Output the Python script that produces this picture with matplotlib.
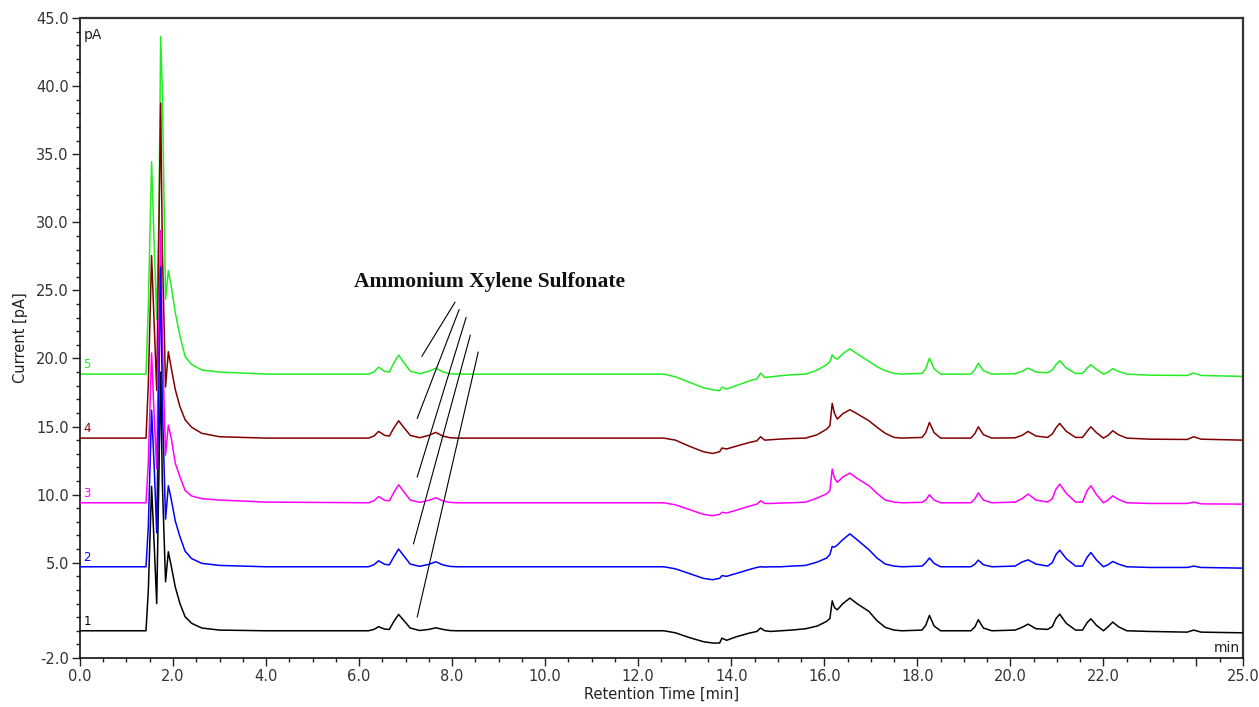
import matplotlib
matplotlib.use("Agg")
import matplotlib.pyplot as plt
from matplotlib.ticker import MultipleLocator, FixedLocator

# ---------------- data ----------------
trace_names = ["1", "2", "3", "4", "5"]
trace_colors = ["#000000", "#0000ff", "#ff00ff", "#800000", "#22ee22"]
baselines = [0.0, 4.7, 9.4, 14.15, 18.85]

times = [0.0, 1.42, 1.47, 1.54, 1.60, 1.65, 1.70, 1.735, 1.77, 1.84, 1.90, 1.96, 2.05, 2.15,
         2.26, 2.40, 2.62, 3.0, 4.0,
         6.2, 6.32, 6.42, 6.55, 6.65, 6.75, 6.85, 6.95, 7.1, 7.3, 7.5, 7.65, 7.8, 7.95, 8.1,
         10.0, 12.55, 12.8, 13.1, 13.4, 13.6, 13.75, 13.8, 13.9, 14.1, 14.39, 14.55, 14.63,
         14.72, 14.85, 15.06, 15.3, 15.6, 15.85, 16.05, 16.12, 16.17, 16.22, 16.28, 16.4,
         16.55, 16.7, 16.96, 17.13, 17.31, 17.5, 17.67, 18.1, 18.18, 18.26, 18.36, 18.5,
         19.15, 19.24, 19.31, 19.42, 19.6, 20.1, 20.25, 20.38, 20.55, 20.8, 20.9, 20.98,
         21.06, 21.2, 21.4, 21.55, 21.65, 21.73, 21.85, 22.0, 22.1, 22.2, 22.32, 22.5,
         23.0, 23.8, 23.94, 24.1, 25.0]

# signal above each trace's baseline [pA]
signal_1 = [0.0, 0.0, 3.0, 10.6, 6.0, 2.0, 12.0, 19.0, 11.0, 3.6, 5.8, 4.8, 3.2, 2.0,
            1.03, 0.55, 0.2, 0.05, 0.0,
            0.0, 0.1, 0.3, 0.12, 0.1, 0.7, 1.2, 0.8, 0.2, 0.02, 0.1, 0.22, 0.1, 0.02, 0.0,
            0.0, 0.0, -0.15, -0.5, -0.8, -0.9, -0.9, -0.54, -0.7, -0.45, -0.17, -0.05, 0.2,
            0.0, -0.05, 0.0, 0.05, 0.15, 0.35, 0.69, 0.9, 2.2, 1.7, 1.54, 2.0,
            2.4, 2.0, 1.42, 0.75, 0.25, 0.05, 0.0, 0.05, 0.4, 1.13, 0.35, 0.0,
            0.0, 0.3, 0.81, 0.2, 0.0, 0.05, 0.25, 0.49, 0.15, 0.1, 0.3, 0.9,
            1.22, 0.55, 0.05, 0.05, 0.6, 0.88, 0.4, 0.0, 0.3, 0.64, 0.3, 0.0,
            -0.05, -0.1, 0.05, -0.1, -0.15]
signal_2 = [0.0, 0.0, 3.0, 11.5, 7.0, 2.5, 14.0, 22.0, 12.0, 3.5, 5.95, 5.0, 3.35, 2.2,
            1.15, 0.6, 0.25, 0.1, 0.0,
            0.0, 0.15, 0.44, 0.18, 0.14, 0.75, 1.3, 0.85, 0.2, 0.03, 0.18, 0.37, 0.14, 0.03, 0.0,
            0.0, 0.0, -0.15, -0.5, -0.85, -0.95, -0.85, -0.65, -0.7, -0.5, -0.2, -0.05, 0.0,
            -0.02, 0.0, 0.0, 0.05, 0.1, 0.35, 0.64, 0.9, 1.49, 1.45, 1.6, 2.0,
            2.42, 2.0, 1.25, 0.65, 0.2, 0.05, 0.0, 0.05, 0.3, 0.64, 0.25, 0.0,
            0.0, 0.2, 0.49, 0.15, 0.0, 0.05, 0.35, 0.51, 0.2, 0.05, 0.3, 0.9,
            1.22, 0.6, 0.05, 0.05, 0.7, 1.05, 0.5, 0.0, 0.15, 0.39, 0.2, 0.0,
            -0.05, -0.05, 0.05, -0.05, -0.1]
signal_3 = [0.0, 0.0, 3.0, 11.0, 6.0, 2.5, 14.0, 20.0, 12.0, 3.5, 5.7, 4.8, 2.9, 1.9,
            0.9, 0.5, 0.3, 0.2, 0.05,
            0.0, 0.15, 0.46, 0.18, 0.14, 0.78, 1.32, 0.86, 0.2, 0.03, 0.18, 0.37, 0.14, 0.03, 0.0,
            0.0, 0.0, -0.15, -0.5, -0.85, -0.95, -0.85, -0.7, -0.75, -0.55, -0.25, -0.1, 0.15,
            -0.05, -0.05, -0.02, 0.0, 0.05, 0.35, 0.66, 0.9, 2.47, 1.8, 1.5, 1.9,
            2.18, 1.8, 1.25, 0.7, 0.2, 0.05, 0.0, 0.03, 0.2, 0.59, 0.2, 0.0,
            0.0, 0.3, 0.73, 0.2, 0.0, 0.05, 0.3, 0.64, 0.2, 0.05, 0.3, 1.0,
            1.37, 0.7, 0.05, 0.05, 0.9, 1.25, 0.6, 0.0, 0.2, 0.51, 0.25, 0.0,
            -0.05, -0.05, 0.05, -0.08, -0.1]
signal_4 = [0.0, 0.0, 4.0, 13.4, 8.0, 3.5, 16.0, 24.6, 14.0, 3.75, 6.35, 5.2, 3.55, 2.3,
            1.35, 0.8, 0.35, 0.1, 0.0,
            0.0, 0.15, 0.49, 0.2, 0.15, 0.76, 1.27, 0.83, 0.2, 0.03, 0.2, 0.42, 0.15, 0.03, 0.0,
            0.0, 0.0, -0.15, -0.6, -1.0, -1.13, -1.0, -0.73, -0.8, -0.6, -0.32, -0.2, 0.1,
            -0.15, -0.12, -0.07, -0.03, 0.0, 0.25, 0.66, 0.9, 2.55, 1.8, 1.4, 1.8,
            2.08, 1.8, 1.27, 0.8, 0.35, 0.05, 0.0, 0.05, 0.4, 1.15, 0.4, 0.0,
            0.0, 0.35, 0.83, 0.25, 0.0, 0.02, 0.2, 0.49, 0.15, 0.05, 0.3, 0.75,
            1.08, 0.5, 0.05, 0.05, 0.5, 0.83, 0.4, 0.0, 0.2, 0.54, 0.25, 0.0,
            -0.08, -0.1, 0.1, -0.08, -0.15]
signal_5 = [0.0, 0.0, 5.0, 15.6, 9.0, 4.0, 12.0, 24.8, 20.9, 5.5, 7.6, 6.5, 4.5, 2.8,
            1.3, 0.7, 0.3, 0.15, 0.0,
            0.0, 0.16, 0.51, 0.2, 0.15, 0.84, 1.4, 0.9, 0.22, 0.03, 0.2, 0.44, 0.16, 0.03, 0.0,
            0.0, 0.0, -0.2, -0.6, -1.0, -1.15, -1.22, -0.95, -1.1, -0.85, -0.5, -0.35, 0.07,
            -0.25, -0.2, -0.12, -0.05, 0.0, 0.3, 0.7, 0.9, 1.42, 1.2, 1.1, 1.5,
            1.86, 1.5, 0.93, 0.55, 0.25, 0.05, 0.0, 0.05, 0.4, 1.17, 0.4, 0.0,
            0.0, 0.35, 0.8, 0.25, 0.0, 0.02, 0.2, 0.44, 0.15, 0.1, 0.3, 0.7,
            0.98, 0.45, 0.05, 0.05, 0.45, 0.69, 0.35, 0.0, 0.15, 0.4, 0.2, 0.0,
            -0.08, -0.1, 0.08, -0.1, -0.17]
signals = [signal_1, signal_2, signal_3, signal_4, signal_5]

y_major_ticks = [-2, 5, 10, 15, 20, 25, 30, 35, 40, 45]
x_major_ticks = [0, 2, 4, 6, 8, 10, 12, 14, 16, 18, 20, 22, 24, 25]
x_tick_labels = ["0.0", "2.0", "4.0", "6.0", "8.0", "10.0", "12.0", "14.0", "16.0",
                 "18.0", "20.0", "22.0", "", "25.0"]

annotation_text = "Ammonium Xylene Sulfonate"
# pointer lines (start near text -> toward the 7.6 min peak of each trace)
pointer_lines = [((8.06, 24.12), (7.35, 20.16)),
                 ((8.15, 23.58), (7.25, 15.6)),
                 ((8.30, 23.00), (7.25, 11.3)),
                 ((8.39, 21.70), (7.17, 6.39)),
                 ((8.56, 20.46), (7.25, 1.02))]

# ---------------- plotting ----------------
plt.rcParams['font.family'] = ['DejaVu Sans']
fig = plt.figure(figsize=(12.59, 7.07), dpi=100)
ax = fig.add_axes([0.0635, 0.0693, 0.9238, 0.9052])

for i in reversed(range(5)):
    vals = [baselines[i] + s for s in signals[i]]
    ax.plot(times, vals, color=trace_colors[i], lw=1.1, zorder=2 + (4 - i))
    ax.text(0.07, baselines[i] + 0.2, trace_names[i], color=trace_colors[i],
            fontsize=8.5, ha='left', va='bottom')

ax.set_xlim(0, 25)
ax.set_ylim(-2, 45)

ax.xaxis.set_major_locator(FixedLocator(x_major_ticks))
ax.set_xticklabels(x_tick_labels)
ax.xaxis.set_minor_locator(MultipleLocator(0.5))
ax.yaxis.set_major_locator(FixedLocator(y_major_ticks))
ax.set_yticklabels([f"{v:.1f}" for v in y_major_ticks])
ax.yaxis.set_minor_locator(MultipleLocator(1))

ax.tick_params(axis='both', which='major', direction='out', length=6, width=1,
               colors='#222222', labelsize=10.5, labelcolor='#333333', pad=2)
ax.tick_params(axis='both', which='minor', direction='out', length=3, width=1,
               colors='#222222')

for side in ['left', 'bottom']:
    ax.spines[side].set_color('#111111')
    ax.spines[side].set_linewidth(1.2)
for side in ['top', 'right']:
    ax.spines[side].set_color('#333333')
    ax.spines[side].set_linewidth(1.6)

ax.set_xlabel("Retention Time [min]", fontsize=10.5, color='#222222', labelpad=2)
ax.set_ylabel("Current [pA]", fontsize=10.5, color='#222222', labelpad=6)

ax.text(0.003, 0.985, "pA", transform=ax.transAxes, fontsize=10, ha='left', va='top',
        color='#222222')
ax.text(0.997, 0.005, "min", transform=ax.transAxes, fontsize=10, ha='right',
        va='bottom', color='#222222')

ax.text(8.8, 25.6, annotation_text, family=['Liberation Serif'], fontweight='bold',
        fontsize=15.5, ha='center', va='center', color='#111111')
for (x0, y0), (x1, y1) in pointer_lines:
    ax.plot([x0, x1], [y0, y1], color='black', lw=0.8, zorder=10)

fig.savefig("out.png", dpi=100, facecolor='white')
